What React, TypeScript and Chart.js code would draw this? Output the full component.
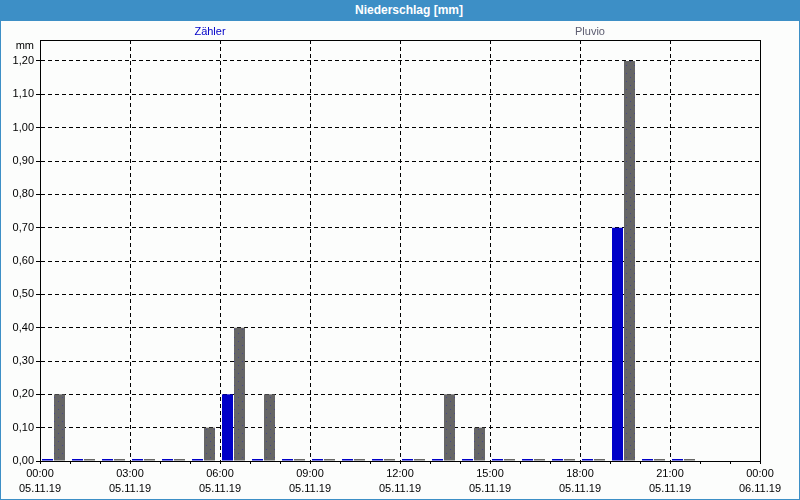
import React, { useEffect, useRef } from 'react';
import { Chart, registerables } from 'chart.js';

Chart.register(...registerables);

// ---- data ----
const hours = [0, 1, 2, 3, 4, 5, 6, 7, 8, 9, 10, 11, 12, 13, 14, 15, 16, 17, 18, 19, 20, 21];
const zaehler = [0, 0, 0, 0, 0, 0, 0.2, 0, 0, 0, 0, 0, 0, 0, 0, 0, 0, 0, 0, 0.7, 0, 0];
const pluvio = [0.2, 0, 0, 0, 0, 0.1, 0.4, 0.2, 0, 0, 0, 0, 0, 0.2, 0.1, 0, 0, 0, 0, 1.2, 0, 0];
const seriesNames = ['Zähler', 'Pluvio'];
const timeLabels = ['00:00', '03:00', '06:00', '09:00', '12:00', '15:00', '18:00', '21:00', '00:00'];
const dateLabels = ['05.11.19', '05.11.19', '05.11.19', '05.11.19', '05.11.19', '05.11.19', '05.11.19', '05.11.19', '06.11.19'];
const chartTitle = 'Niederschlag [mm]';
const unitLabel = 'mm';

const FONT = '"Liberation Sans", Arial, sans-serif';
const BLUE_FRAME = '#3d8fc6';
const BG = '#fcfdfc';
const BAR_OFFSET = 0.45; // bar group centre inside each hour slot

function makePattern(): CanvasPattern | string {
  const c = document.createElement('canvas');
  c.width = 8;
  c.height = 8;
  const g = c.getContext('2d');
  if (!g) return '#666666';
  g.fillStyle = '#666666';
  g.fillRect(0, 0, 8, 8);
  g.fillStyle = '#48488a';
  g.fillRect(2, 1, 1, 1);
  g.fillRect(6, 5, 1, 1);
  const p = g.createPattern(c, 'repeat');
  return p || '#666666';
}

export default function App() {
  const canvasRef = useRef<HTMLCanvasElement | null>(null);

  useEffect(() => {
    document.body.style.margin = '0';
    const canvas = canvasRef.current;
    if (!canvas) return;

    const overlay = {
      id: 'overlay',
      afterDraw(chart: any) {
        const { ctx, chartArea } = chart;
        const { left, top, right, bottom } = chartArea;
        ctx.save();
        ctx.strokeStyle = '#000';
        ctx.lineWidth = 1;
        ctx.setLineDash([]);
        ctx.strokeRect(left + 0.5, top + 0.5, right - left, bottom - top);
        ctx.font = '11px ' + FONT;
        ctx.textBaseline = 'middle';
        ctx.textAlign = 'center';
        ctx.fillStyle = '#0000c8';
        ctx.fillText(seriesNames[0], 210, 32);
        ctx.fillStyle = '#5c5c70';
        ctx.fillText(seriesNames[1], 590, 32);
        ctx.textAlign = 'right';
        ctx.fillStyle = '#000';
        ctx.fillText(unitLabel, 34, 46);
        ctx.restore();
      },
    };

    const chart = new Chart(canvas, {
      type: 'bar',
      data: {
        datasets: [
          {
            label: seriesNames[0],
            data: hours.map((h, i) => ({ x: h + BAR_OFFSET, y: zaehler[i] })),
            backgroundColor: '#0000c8',
            borderWidth: 0,
            minBarLength: 2,
            categoryPercentage: 0.8,
            barPercentage: 11 / 12,
          },
          {
            label: seriesNames[1],
            data: hours.map((h, i) => ({ x: h + BAR_OFFSET, y: pluvio[i] })),
            backgroundColor: makePattern() as any,
            borderWidth: 0,
            minBarLength: 2,
            categoryPercentage: 0.8,
            barPercentage: 11 / 12,
          },
        ],
      },
      options: {
        animation: false,
        responsive: false,
        maintainAspectRatio: false,
        layout: { padding: { left: 0, right: 40, top: 40, bottom: 0 } },
        plugins: {
          legend: { display: false },
          title: { display: false },
          tooltip: { enabled: false },
        },
        scales: {
          x: {
            type: 'linear',
            min: 0,
            max: 24,
            offset: false,
            afterFit: (s: any) => {
              s.height = 39;
            },
            ticks: {
              stepSize: 1,
              maxTicksLimit: 100,
              autoSkip: false,
              maxRotation: 0,
              minRotation: 0,
              padding: 2,
              color: '#000',
              font: { family: FONT, size: 11, lineHeight: 15 / 11 },
              callback: (v: any) => {
                const n = Number(v);
                if (n % 3 !== 0) return '';
                const i = n / 3;
                return [timeLabels[i], dateLabels[i]];
              },
            },
            grid: {
              offset: false,
              color: (ctx: any) => (ctx.tick && ctx.tick.value % 3 === 0 ? '#000' : 'rgba(0,0,0,0)'),
              tickColor: '#000',
              tickLength: 3,
              lineWidth: 1,
            },
            border: { display: true, color: '#000', dash: [4, 3] },
          },
          y: {
            type: 'linear',
            min: 0,
            max: 1.263,
            afterFit: (s: any) => {
              s.width = 40;
            },
            ticks: {
              stepSize: 0.1,
              includeBounds: false,
              padding: 2,
              color: '#000',
              font: { family: FONT, size: 11 },
              callback: (v: any) => Number(v).toFixed(2).replace('.', ','),
            },
            grid: {
              color: '#000',
              tickColor: '#000',
              tickLength: 4,
              lineWidth: 1,
            },
            border: { display: true, color: '#000', dash: [4, 3] },
          },
        },
      },
      plugins: [overlay],
    } as any);

    return () => {
      chart.destroy();
    };
  }, []);

  return (
    <div
      style={{
        position: 'fixed',
        left: 0,
        top: 0,
        width: 800,
        height: 500,
        background: BG,
        overflow: 'hidden',
      }}
    >
      <canvas ref={canvasRef} width={800} height={500} style={{ position: 'absolute', left: 0, top: 0, width: 800, height: 500 }} />
      <div
        style={{
          position: 'absolute',
          left: 0,
          top: 0,
          width: 800,
          height: 21,
          background: BLUE_FRAME,
          color: '#ffffff',
          fontFamily: FONT,
          fontWeight: 'bold',
          fontSize: 12,
          lineHeight: '21px',
          textAlign: 'center',
          boxSizing: 'border-box',
          paddingLeft: 18,
        }}
      >
        {chartTitle}
      </div>
      <div
        style={{
          position: 'absolute',
          left: 0,
          top: 0,
          width: 800,
          height: 500,
          boxSizing: 'border-box',
          border: '1px solid ' + BLUE_FRAME,
          pointerEvents: 'none',
        }}
      />
    </div>
  );
}
